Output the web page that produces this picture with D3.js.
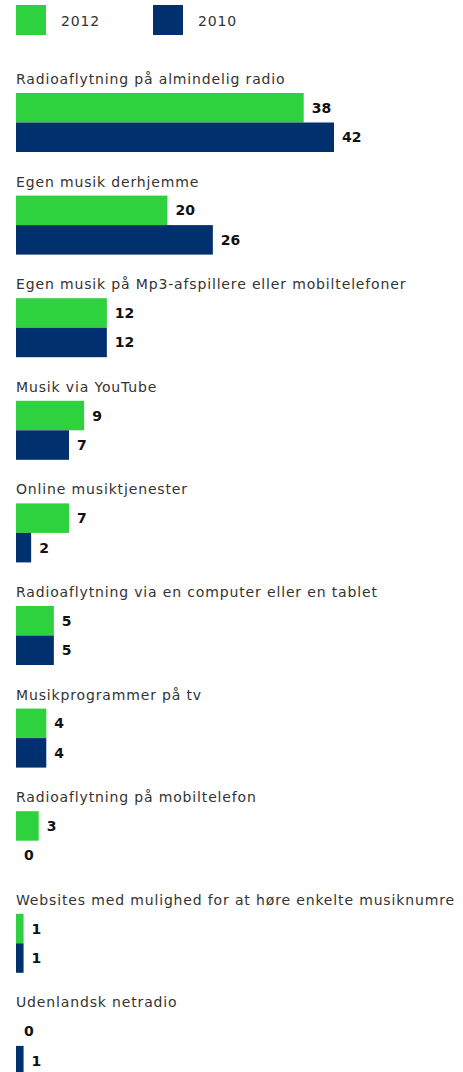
<!DOCTYPE html>
<html>
<head>
<meta charset="utf-8">
<script src="https://cdn.jsdelivr.net/npm/d3@7"></script>
<style>
  html, body { margin: 0; padding: 0; background: #fff; overflow: hidden; }
  svg { display: block; }
  .cat { font-family: "DejaVu Sans", sans-serif; font-size: 14px; letter-spacing: 0.85px; fill: #333; }
  .val { font-family: "DejaVu Sans", sans-serif; font-size: 14px; font-weight: 700; fill: #111; }
  .leg { font-family: "DejaVu Sans", sans-serif; font-size: 14px; letter-spacing: 0.85px; fill: #333; }
</style>
</head>
<body>
<div id="chart"></div>
<script>
// Music listening habits, share in percent, 2012 vs 2010
const categories = [
  "Radioaflytning på almindelig radio",
  "Egen musik derhjemme",
  "Egen musik på Mp3-afspillere eller mobiltelefoner",
  "Musik via YouTube",
  "Online musiktjenester",
  "Radioaflytning via en computer eller en tablet",
  "Musikprogrammer på tv",
  "Radioaflytning på mobiltelefon",
  "Websites med mulighed for at høre enkelte musiknumre",
  "Udenlandsk netradio"
];
const seriesNames = ["2012", "2010"];
const values2012 = [38, 20, 12, 9, 7, 5, 4, 3, 1, 0];
const values2010 = [42, 26, 12, 7, 2, 5, 4, 0, 1, 1];
const seriesColors = ["#2ed13e", "#00306e"];

const width = 463, height = 1072;
const svg = d3.select("#chart").append("svg")
  .attr("width", width).attr("height", height);

const x = d3.scaleLinear().domain([0, 42]).range([16, 334]);

const groupStep = 102.6;
const y = d3.scaleBand()
  .domain(categories)
  .range([75, 75 + groupStep * categories.length])
  .padding(0);

const ySeries = d3.scaleBand()
  .domain(seriesNames)
  .range([18, 77])
  .padding(0);

const color = d3.scaleOrdinal().domain(seriesNames).range(seriesColors);

// Legend
const legend = svg.append("g");
const legX = [16, 153];
seriesNames.forEach((s, i) => {
  const g = legend.append("g").attr("transform", `translate(${legX[i]},5)`);
  g.append("rect").attr("width", 30).attr("height", 30).attr("fill", color(s));
  g.append("text").attr("class", "leg").attr("x", 45).attr("y", 21).text(s);
});

const rows = categories.map((c, i) => ({
  cat: c,
  vals: [
    { s: seriesNames[0], v: values2012[i] },
    { s: seriesNames[1], v: values2010[i] }
  ]
}));

const groups = svg.selectAll("g.group").data(rows).join("g")
  .attr("class", "group")
  .attr("transform", d => `translate(0,${y(d.cat)})`);

groups.append("text")
  .attr("class", "cat")
  .attr("x", 16)
  .attr("y", 9)
  .text(d => d.cat);

groups.selectAll("rect.bar").data(d => d.vals).join("rect")
  .attr("class", "bar")
  .attr("x", x(0))
  .attr("y", d => ySeries(d.s))
  .attr("width", d => x(d.v) - x(0))
  .attr("height", ySeries.bandwidth())
  .attr("fill", d => color(d.s));

groups.selectAll("text.val").data(d => d.vals).join("text")
  .attr("class", "val")
  .attr("x", d => x(d.v) + 8)
  .attr("y", d => ySeries(d.s) + ySeries.bandwidth() / 2)
  .attr("dy", "0.36em")
  .text(d => d.v);
</script>
</body>
</html>
